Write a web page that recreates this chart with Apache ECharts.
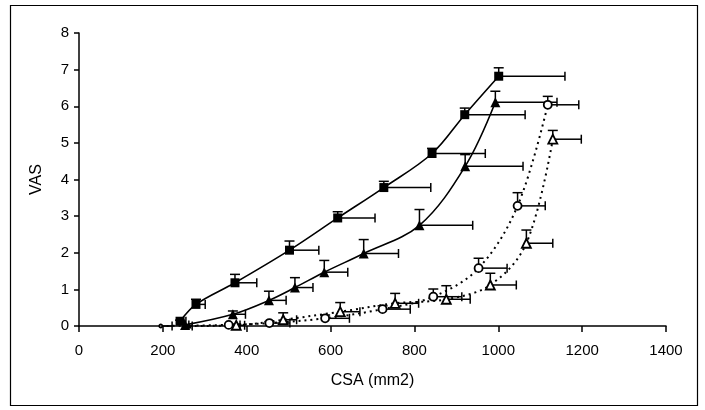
<!DOCTYPE html>
<html>
<head>
<meta charset="utf-8">
<script src="https://cdn.jsdelivr.net/npm/echarts@6/dist/echarts.min.js"></script>
<style>html,body{margin:0;padding:0;background:#fff}#c{width:705px;height:410px}</style>
</head>
<body>
<div id="c"></div>
<script>
// Filled squares (solid line)
var sqX  = [241, 279, 372, 502, 617, 727, 842, 920, 1001];
var sqY  = [0.13, 0.59, 1.18, 2.07, 2.95, 3.78, 4.71, 5.77, 6.82];
var sqXE = [255, 301, 424, 572, 706, 839, 969, 1064, 1159];
var sqYE = [0.16, 0.73, 1.41, 2.32, 3.12, 3.95, 4.85, 5.95, 7.05];
// Filled triangles (solid line)
var trX  = [253, 367, 453, 515, 585, 679, 812, 921, 993];
var trY  = [0.03, 0.32, 0.70, 1.05, 1.47, 1.98, 2.75, 4.36, 6.11];
var trXE = [262, 397, 494, 558, 641, 762, 939, 1059, 1140];
var trYE = [0.05, 0.41, 0.95, 1.32, 1.79, 2.36, 3.18, 4.68, 6.41];
// Open circles (dotted line)
var ocX  = [195, 357, 454, 587, 724, 845, 953, 1046, 1118];
var ocY  = [0, 0.03, 0.08, 0.21, 0.46, 0.80, 1.58, 3.28, 6.04];
var ocXE = [222, 384, 503, 645, 790, 913, 1021, 1112, 1192];
var ocYE = [0, 0.05, 0.12, 0.30, 0.55, 1.01, 1.85, 3.64, 6.27];
// Open triangles (dotted line)
var otX  = [262, 375, 487, 623, 754, 876, 981, 1067, 1130];
var otY  = [0, 0.02, 0.17, 0.39, 0.62, 0.73, 1.12, 2.26, 5.10];
var otXE = [270, 395, 519, 670, 810, 933, 1043, 1130, 1198];
var otYE = [0.02, 0.05, 0.36, 0.64, 0.89, 1.10, 1.44, 2.62, 5.34];

var xTicks = [0, 200, 400, 600, 800, 1000, 1200, 1400];
var yTicks = [0, 1, 2, 3, 4, 5, 6, 7, 8];

function pts(xs, ys) { return xs.map(function (x, i) { return [x, ys[i]]; }); }
function errs(xs, ys, xe, ye) { return xs.map(function (x, i) { return [x, ys[i], xe[i], ye[i]]; }); }

function renderErr(params, api) {
  var p = api.coord([api.value(0), api.value(1)]);
  var ph = api.coord([api.value(2), api.value(1)]);
  var pv = api.coord([api.value(0), api.value(3)]);
  var st = { stroke: '#000', lineWidth: 1.5 };
  var ch = [];
  if (ph[0] - p[0] > 1) {
    ch.push({ type: 'line', shape: { x1: p[0], y1: p[1], x2: ph[0], y2: ph[1] }, style: st });
    ch.push({ type: 'line', shape: { x1: ph[0], y1: ph[1] - 4.5, x2: ph[0], y2: ph[1] + 4.5 }, style: st });
  }
  if (p[1] - pv[1] > 1) {
    ch.push({ type: 'line', shape: { x1: p[0], y1: p[1], x2: pv[0], y2: pv[1] }, style: st });
    ch.push({ type: 'line', shape: { x1: pv[0] - 5, y1: pv[1], x2: pv[0] + 5, y2: pv[1] }, style: st });
  }
  return { type: 'group', children: ch };
}

function errSeries(d) {
  return { type: 'custom', renderItem: renderErr, data: d, encode: { x: 0, y: 1 }, z: 2, silent: true };
}
function lineSeries(d, sym, size, filled, dotted) {
  return {
    type: 'line', data: d, smooth: 0.35, symbol: sym, z: 3,
    symbolSize: function (v) { return v[1] === 0 ? 3 : size; },
    lineStyle: { color: '#000', width: dotted ? 2 : 1.6, type: dotted ? [2, 4] : 'solid' },
    itemStyle: { color: filled ? '#000' : '#fff', borderColor: '#000', borderWidth: filled ? 0 : 1.8 },
    showSymbol: true, silent: true
  };
}

var chart = echarts.init(document.getElementById('c'), null, { renderer: 'canvas' });
var fnt = '"Liberation Sans", Arial, sans-serif';
chart.setOption({
  animation: false,
  backgroundColor: '#fff',
  grid: { left: 79, right: 39, top: 33, bottom: 84 },
  xAxis: {
    type: 'value', min: 0, max: 1400, interval: 200,
    name: 'CSA (mm2)', nameLocation: 'middle', nameGap: 47,
    nameTextStyle: { color: '#000', fontSize: 16, fontFamily: fnt },
    axisLine: { lineStyle: { color: '#000', width: 1.5 } },
    axisTick: { show: true, length: 6, lineStyle: { color: '#000', width: 1.5 } },
    axisLabel: { color: '#000', fontSize: 15, fontFamily: fnt, margin: 17,
      formatter: function (v) { return xTicks.indexOf(v) >= 0 ? String(v) : ''; } },
    splitLine: { show: false }
  },
  yAxis: {
    type: 'value', min: 0, max: 8, interval: 1,
    name: 'VAS', nameLocation: 'middle', nameGap: 34, nameRotate: 90,
    nameTextStyle: { color: '#000', fontSize: 16, fontFamily: fnt },
    axisLine: { show: true, lineStyle: { color: '#000', width: 1.5 } },
    axisTick: { show: true, length: 5, lineStyle: { color: '#000', width: 1.5 } },
    axisLabel: { color: '#000', fontSize: 15, fontFamily: fnt, margin: 10,
      formatter: function (v) { return yTicks.indexOf(v) >= 0 ? String(v) : ''; } },
    splitLine: { show: false }
  },
  graphic: [{ type: 'rect', shape: { x: 10.5, y: 5.5, width: 687, height: 400 },
    style: { fill: 'none', stroke: '#000', lineWidth: 1.2 }, z: 100 }],
  series: [
    errSeries(errs(sqX, sqY, sqXE, sqYE)),
    errSeries(errs(trX, trY, trXE, trYE)),
    errSeries(errs(ocX, ocY, ocXE, ocYE)),
    errSeries(errs(otX, otY, otXE, otYE)),
    lineSeries(pts(sqX, sqY), 'rect', 9, true, false),
    lineSeries(pts(trX, trY), 'triangle', 10, true, false),
    lineSeries(pts(ocX, ocY), 'circle', 8, false, true),
    lineSeries(pts(otX, otY), 'triangle', 9, false, true)
  ]
});
</script>
</body>
</html>
